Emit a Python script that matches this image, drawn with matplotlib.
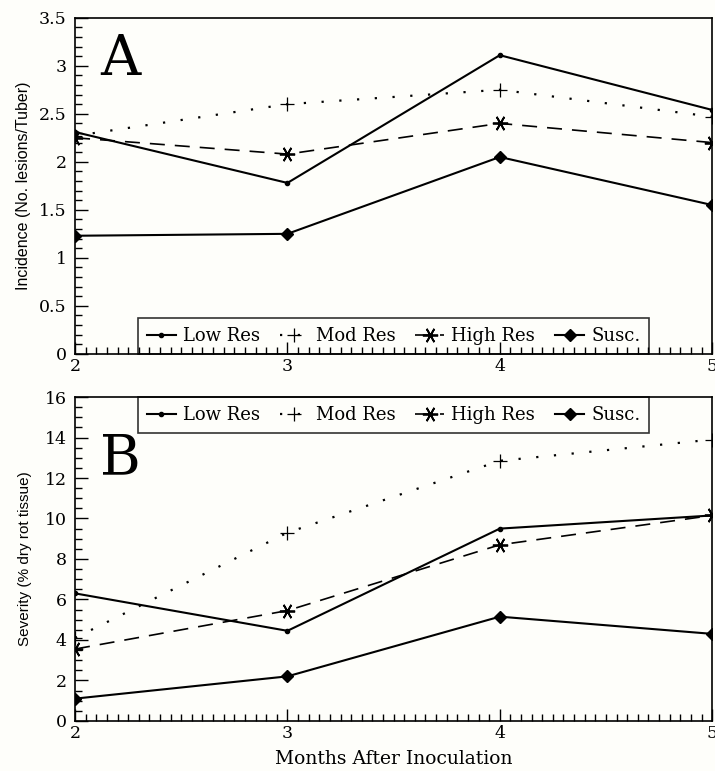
import matplotlib
matplotlib.use("Agg")
import matplotlib.pyplot as plt
from matplotlib.ticker import MultipleLocator

# data
months = [2, 3, 4, 5]
series_names = ["Low Res", "Mod Res", "High Res", "Susc."]

incidence_low = [2.31, 1.78, 3.11, 2.54]
incidence_mod = [2.27, 2.60, 2.75, 2.47]
incidence_high = [2.25, 2.08, 2.40, 2.20]
incidence_susc = [1.23, 1.25, 2.05, 1.55]

severity_low = [6.3, 4.45, 9.5, 10.15]
severity_mod = [4.1, 9.3, 12.85, 13.9]
severity_high = [3.55, 5.45, 8.7, 10.15]
severity_susc = [1.1, 2.2, 5.15, 4.3]

bg = "#fefefa"
serif = ["DejaVu Serif"]
narrow = ["Liberation Sans Narrow", "Liberation Sans", "DejaVu Sans"]

styles = [
    dict(ls="-", marker="o", ms=3, lw=1.5),
    dict(ls=(0, (1, 7)), marker="+", ms=10, mew=0.9, lw=1.6),
    dict(ls=(0, (9, 6)), marker=(6, 2, 90), ms=11, mew=1.3, lw=1.2),
    dict(ls="-", marker="D", ms=6, lw=1.5),
]

fig = plt.figure(figsize=(7.15, 7.71), dpi=100, facecolor=bg)
axA = fig.add_axes([0.105, 0.541, 0.891, 0.436], facecolor=bg)
axB = fig.add_axes([0.105, 0.065, 0.891, 0.420], facecolor=bg)


def style_axis(ax, ymax, ymajor, yminor):
    ax.set_xlim(2, 5)
    ax.set_ylim(0, ymax)
    ax.xaxis.set_major_locator(MultipleLocator(1))
    ax.xaxis.set_minor_locator(MultipleLocator(0.05))
    ax.yaxis.set_major_locator(MultipleLocator(ymajor))
    ax.yaxis.set_minor_locator(MultipleLocator(yminor))
    ax.tick_params(which="both", direction="in", top=False, right=False,
                   width=1, color="black", labelsize=12.5)
    ax.tick_params(which="major", length=9, pad=6)
    ax.tick_params(axis="x", which="major", pad=3)
    ax.tick_params(which="minor", length=5)
    for lab in ax.get_xticklabels() + ax.get_yticklabels():
        lab.set_fontfamily(serif)
    for sp in ax.spines.values():
        sp.set_linewidth(1.2)


def draw(ax, ys):
    for name, y, st in zip(series_names, ys, styles):
        ax.plot(months, y, color="black", mfc="black", mec="black",
                label=name, **st)


def add_legend(ax, loc, anchor):
    leg = ax.legend(loc=loc, bbox_to_anchor=anchor, ncol=4,
                    borderaxespad=0, frameon=True, fancybox=False,
                    handlelength=1.6, handletextpad=0.4, columnspacing=1.1,
                    borderpad=0.5, prop={"family": serif, "size": 13})
    fr = leg.get_frame()
    fr.set_edgecolor("black")
    fr.set_linewidth(1.2)
    fr.set_facecolor("none")
    return leg


draw(axA, [incidence_low, incidence_mod, incidence_high, incidence_susc])
style_axis(axA, 3.5, 0.5, 0.1)
axA.yaxis.set_major_formatter(plt.FuncFormatter(lambda v, p: f"{v:g}"))
axA.set_ylabel("Incidence (No. lesions/Tuber)", family=narrow, fontsize=11.5, labelpad=6)
axA.text(0.071, 0.875, "A", transform=axA.transAxes, family=serif,
         fontsize=40, ha="center", va="center")
add_legend(axA, "lower center", (0.5, 0))

draw(axB, [severity_low, severity_mod, severity_high, severity_susc])
style_axis(axB, 16, 2, 0.5)
axB.set_ylabel("Severity (% dry rot tissue)", family=narrow, fontsize=11, labelpad=9)
axB.set_xlabel("Months After Inoculation", family=serif, fontsize=13.5, labelpad=6)
axB.text(0.071, 0.81, "B", transform=axB.transAxes, family=serif,
         fontsize=40, ha="center", va="center")
add_legend(axB, "upper center", (0.5, 1))

fig.savefig("out.png", dpi=100, facecolor=bg)
